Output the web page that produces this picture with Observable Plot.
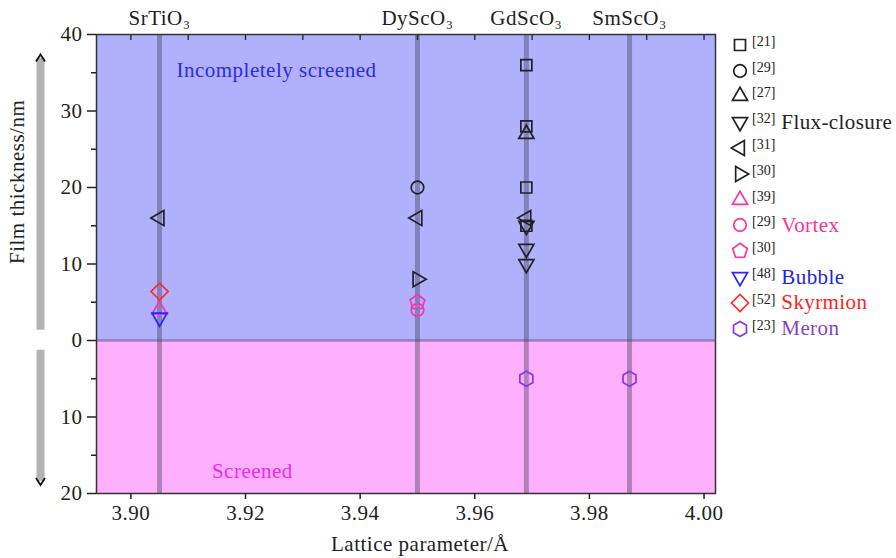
<!DOCTYPE html>
<html><head><meta charset="utf-8">
<script src="https://cdn.jsdelivr.net/npm/d3@7"></script>
<script src="https://cdn.jsdelivr.net/npm/@observablehq/plot@0.6"></script>
<style>
body{margin:0;background:#fff;font-family:"Liberation Serif","DejaVu Serif",serif;color:#222}
svg text{letter-spacing:0.5px;}
#wrap{position:relative;width:896px;height:558px;}
#legend{position:absolute;left:729px;top:32px;}
.row{height:25.8px;display:flex;align-items:center;white-space:nowrap;}
.row svg{display:block}
.ref{font-size:14px;margin-left:1px;position:relative;top:-3px;color:#222}
.lab{font-size:21px;margin-left:6px;letter-spacing:0.4px}
</style></head><body><div id="wrap"></div>
<script>
// ---------- data ----------
const substrates = ["SrTiO₃", "DyScO₃", "GdScO₃", "SmScO₃"];
const latticeParams = [3.905, 3.950, 3.969, 3.987];

const xTicksBottom = [3.90, 3.92, 3.94, 3.96, 3.98, 4.00];
const xTicksTop = [3.90, 3.91, 3.92, 3.93, 3.94, 3.95, 3.96, 3.97, 3.98, 3.99, 4.00];
const yMajor = [-20, -10, 0, 10, 20, 30, 40];
const yMinor = [-15, -5, 5, 15, 25, 35];

const regionBounds = [[0, 40], [-20, 0]];
const regionLabels = ["Incompletely screened", "Screened"];
const regionLabelX = [3.9254, 3.9212];
const regionLabelY = [35.3, -17.1];

const seriesRefs = ["[21]", "[29]", "[27]", "[32]", "[31]", "[30]", "[39]", "[29]", "[30]", "[48]", "[52]", "[23]"];
const seriesLabels = ["", "", "", "Flux-closure", "", "", "", "Vortex", "", "Bubble", "Skyrmion", "Meron"];
const seriesX = [
  [3.969, 3.969, 3.969, 3.969],
  [3.950],
  [3.969],
  [3.969, 3.969, 3.969],
  [3.905, 3.950, 3.969],
  [3.950],
  [3.905],
  [3.950],
  [3.950],
  [3.905],
  [3.905],
  [3.969, 3.987]
];
const seriesY = [
  [36, 28, 20, 15],
  [20],
  [27],
  [15, 12, 10],
  [16, 16, 16],
  [8],
  [4],
  [4],
  [5],
  [3],
  [6.4],
  [-5, -5]
];

// y-label arrow extents (data units)
const arrowBars = [[1.35, 36.9], [-1.27, -18.4]];
const arrowTips = [37.4, -18.9];

// ---------- styles ----------
const symbolPentagon = {draw(ctx, size) {
  const R = Math.sqrt(size / Math.PI) * 1.1;
  for (let i = 0; i < 5; i++) {
    const a = -Math.PI / 2 + i * 2 * Math.PI / 5;
    const x = R * Math.cos(a), y = R * Math.sin(a);
    i ? ctx.lineTo(x, y) : ctx.moveTo(x, y);
  }
  ctx.closePath();
}};
const symbolHex = {draw(ctx, size) {
  const rx = Math.sqrt(size / Math.PI), ry = rx * 2 / Math.sqrt(3), hy = ry / 2;
  ctx.moveTo(0, ry); ctx.lineTo(rx, hy); ctx.lineTo(rx, -hy);
  ctx.lineTo(0, -ry); ctx.lineTo(-rx, -hy); ctx.lineTo(-rx, hy); ctx.closePath();
}};
const symbolChevron = {draw(ctx, size) {
  ctx.moveTo(-4.5, 7); ctx.lineTo(0, 0); ctx.lineTo(4.5, 7);
}};
const black = "#222", pink = "#ff33a6", blue = "#2626ff", red = "#ff2a2a", purple = "#8a33f0";
const seriesStyle = [
  {symbol: d3.symbolSquare2, r: 7, rotate: 0, color: black},
  {symbol: d3.symbolCircle, r: 6.3, rotate: 0, color: black},
  {symbol: d3.symbolTriangle2, r: 7.2, rotate: 0, color: black},
  {symbol: d3.symbolTriangle2, r: 7.2, rotate: 180, color: black},
  {symbol: d3.symbolTriangle2, r: 7.2, rotate: -90, color: black},
  {symbol: d3.symbolTriangle2, r: 7.2, rotate: 90, color: black},
  {symbol: d3.symbolTriangle2, r: 7.2, rotate: 0, color: pink},
  {symbol: d3.symbolCircle, r: 6.3, rotate: 0, color: pink},
  {symbol: symbolPentagon, r: 7, rotate: 0, color: pink},
  {symbol: d3.symbolTriangle2, r: 7.2, rotate: 180, color: blue},
  {symbol: d3.symbolDiamond2, r: 7.7, rotate: 0, color: red},
  {symbol: symbolHex, r: 6.5, rotate: 0, color: purple}
];
const labelColors = {"Flux-closure": "#222", "Vortex": "#ff3399", "Bubble": "#2222ee", "Skyrmion": "#ff2222", "Meron": "#8245c2"};

const xDomain = [3.894, 4.002];
const points = seriesX.map((xs, s) => xs.map((x, i) => ({x, y: seriesY[s][i]})));
const serif = '"Liberation Serif", "DejaVu Serif", serif';

const chart = Plot.plot({
  width: 896, height: 558,
  marginLeft: 96, marginRight: 181, marginTop: 34, marginBottom: 65,
  x: {domain: xDomain},
  y: {domain: [-20, 40]},
  style: {fontFamily: serif, fontSize: "21px", color: "#222", background: "transparent", overflow: "visible"},
  marks: [
    Plot.rect(regionBounds, {y1: d => d[0], y2: d => d[1], fill: (d, i) => i === 0 ? "#b0b0fd" : "#feb0fd"}),
    Plot.ruleY([0], {stroke: "#505078", strokeOpacity: 0.5, strokeWidth: 2.5}),
    Plot.ruleX(latticeParams, {x: d => d, stroke: "#3c3c58", strokeOpacity: 0.4, strokeWidth: 5}),
    Plot.text(regionLabels, {x: (d, i) => regionLabelX[i], y: (d, i) => regionLabelY[i], text: d => d,
      fill: (d, i) => i === 0 ? "#2b2be0" : "#f028f0", fontSize: 21}),
    ...points.map((pts, s) => Plot.dot(pts, {x: "x", y: "y", symbol: seriesStyle[s].symbol, r: seriesStyle[s].r,
      rotate: seriesStyle[s].rotate, stroke: seriesStyle[s].color, strokeWidth: 1.7, fill: "none"})),
    Plot.frame({stroke: "#333", strokeWidth: 1.5}),
    Plot.axisX({ticks: xTicksBottom, tickFormat: d3.format(".2f"), tickSize: 6, tickPadding: 6, label: null, strokeWidth: 1.5}),
    Plot.axisX({anchor: "top", ticks: xTicksTop, tickSize: -5, tickFormat: () => "", label: null, strokeWidth: 1.3}),
    Plot.axisY({ticks: yMajor, tickFormat: d => Math.abs(d), tickSize: 9, tickPadding: 5, label: null, strokeWidth: 1.5}),
    Plot.axisY({ticks: yMinor, tickFormat: () => "", tickSize: 5, label: null, strokeWidth: 1.5}),
    Plot.text(substrates, {x: (d, i) => latticeParams[i], frameAnchor: "top", dy: -24, text: d => d}),
    Plot.text(["Lattice parameter/Å"], {frameAnchor: "bottom", dy: 57, dx: 14}),
    Plot.text(["Film thickness/nm"], {frameAnchor: "left", dx: -79, rotate: -90}),
    Plot.ruleX(arrowBars, {x: () => xDomain[0], y1: d => d[0], y2: d => d[1], dx: -56, stroke: "#b3b3b3", strokeWidth: 8}),
    Plot.dot(arrowTips, {x: () => xDomain[0], y: d => d, dx: -56, symbol: symbolChevron, r: 5, fill: "none",
      stroke: "#111", strokeWidth: 1.8, rotate: (d) => d > 0 ? 0 : 180})
  ]
});
const wrap = document.getElementById("wrap");
wrap.appendChild(chart);

// ---------- legend ----------
const legend = document.createElement("div");
legend.id = "legend";
seriesRefs.forEach((ref, s) => {
  const st = seriesStyle[s];
  const row = document.createElement("div");
  row.className = "row";
  const path = d3.symbol(st.symbol, Math.PI * st.r * st.r)();
  row.innerHTML = `<svg width="22" height="24" viewBox="-11 -12 22 24"><path d="${path}" transform="rotate(${st.rotate})" fill="none" stroke="${st.color}" stroke-width="1.7"/></svg><span class="ref">${ref}</span>` +
    (seriesLabels[s] ? `<span class="lab" style="color:${labelColors[seriesLabels[s]]}">${seriesLabels[s]}</span>` : "");
  legend.appendChild(row);
});
wrap.appendChild(legend);
</script>
</body></html>
